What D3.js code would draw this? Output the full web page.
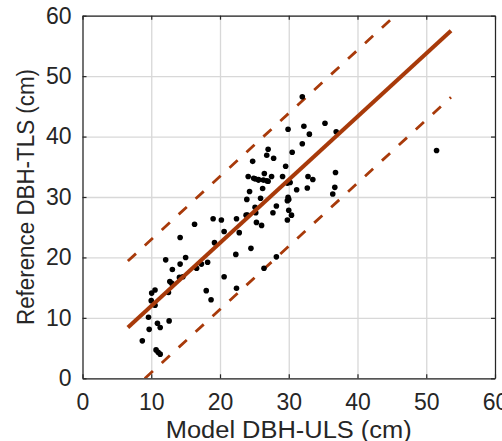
<!DOCTYPE html>
<html>
<head>
<meta charset="utf-8">
<script src="https://cdn.jsdelivr.net/npm/d3@7"></script>
<style>
  body { margin: 0; background: #fff; }
  svg { display: block; font-family: "Liberation Sans", Arial, sans-serif; }
</style>
</head>
<body>
<div id="chart"></div>
<script>
// Model DBH (ULS) vs reference DBH (TLS)
var modelDbh = [
  31.97, 35.27, 32.2, 29.9, 33.0, 36.9, 31.97, 30.5, 27.0, 26.8,
  27.8, 24.75, 29.55, 51.5, 36.8, 24.1, 24.9, 25.6, 26.45, 26.3,
  27.0, 27.5, 29.1, 30.2, 29.8, 32.8, 33.5, 36.7, 36.4, 32.7,
  31.15, 24.3, 26.2, 23.9, 25.9, 25.1, 28.2, 29.9, 29.8, 27.7,
  30.0, 30.4, 29.8, 25.2, 24.0, 25.3, 26.05, 22.4, 20.2, 19.0,
  20.6, 22.8, 16.3, 14.2, 19.2, 24.5, 22.3, 28.2, 26.4, 20.6,
  22.4, 18.0, 18.7, 12.1, 15.0, 14.2, 13.07, 16.6, 17.3, 18.2,
  14.6, 14.1, 12.7, 13.0, 12.5, 10.55, 10.06, 10.0, 10.55, 9.6,
  9.7, 8.7, 10.9, 11.3, 12.6, 10.7, 11.3, 25.1, 25.6, 26.8,
  30.0, 23.8, 11.0
];
var referenceDbh = [
  46.6, 42.2, 41.7, 41.2, 40.4, 40.8, 38.8, 37.4, 37.9, 36.9,
  36.4, 35.9, 35.1, 37.7, 34.05, 33.4, 33.1, 32.8, 33.9, 32.8,
  32.6, 33.4, 33.4, 32.4, 32.3, 33.4, 32.9, 31.6, 30.5, 31.5,
  31.2, 30.9, 31.4, 29.6, 29.8, 28.3, 28.5, 29.97, 29.4, 27.4,
  27.8, 27.0, 26.2, 27.4, 27.0, 25.8, 25.3, 26.4, 26.2, 26.4,
  24.3, 24.1, 25.5, 23.3, 22.45, 21.5, 20.5, 20.1, 18.2, 16.8,
  14.9, 14.5, 13.0, 19.6, 20.0, 18.9, 18.0, 18.2, 18.9, 19.2,
  16.8, 16.7, 16.0, 15.7, 14.2, 14.6, 14.1, 12.85, 12.1, 10.1,
  8.1, 6.2, 9.1, 8.4, 9.5, 4.7, 4.0, 33.0, 32.9, 32.7,
  29.6, 27.0, 4.3
];

// regression line and +/- band
var fitSlope = 1.045;
var fitIntercept = 1.5;
var bandOffset = 11;
var lineRange = [6.6, 53.6];

var xTicks = [0, 10, 20, 30, 40, 50, 60];
var yTicks = [0, 10, 20, 30, 40, 50, 60];

var W = 502, H = 441;
var margin = { top: 15.7, right: 7, bottom: 62.7, left: 82.5 };
var width = W - margin.left - margin.right;
var height = H - margin.top - margin.bottom;

var lineColor = '#a83a0a';
var axisColor = '#262626';

var svg = d3.select('#chart').append('svg')
  .attr('width', W)
  .attr('height', H);

var g = svg.append('g')
  .attr('transform', 'translate(' + margin.left + ',' + margin.top + ')');

var x = d3.scaleLinear().domain([0, 60]).range([0, width]);
var y = d3.scaleLinear().domain([0, 60]).range([height, 0]);

// grid
g.append('g')
  .attr('class', 'grid')
  .attr('transform', 'translate(0,' + height + ')')
  .call(d3.axisBottom(x).tickValues(xTicks).tickSize(-height).tickFormat(''))
  .call(function(s) { s.select('.domain').remove(); });
g.append('g')
  .attr('class', 'grid')
  .call(d3.axisLeft(y).tickValues(yTicks).tickSize(-width).tickFormat(''))
  .call(function(s) { s.select('.domain').remove(); });
g.selectAll('.grid line')
  .attr('stroke', '#d8d8d8')
  .attr('stroke-width', 1.3);

g.append('clipPath').attr('id', 'plotClip')
  .append('rect').attr('width', width).attr('height', height);

var plot = g.append('g').attr('clip-path', 'url(#plotClip)');

var line = d3.line()
  .x(function(d) { return x(d[0]); })
  .y(function(d) { return y(d[1]); });

function fitAt(v, off) { return [v, fitSlope * v + fitIntercept + off]; }

[bandOffset, -bandOffset].forEach(function(off) {
  plot.append('path')
    .datum(lineRange.map(function(v) { return fitAt(v, off); }))
    .attr('d', line)
    .attr('fill', 'none')
    .attr('stroke', lineColor)
    .attr('stroke-width', 2.8)
    .attr('stroke-dasharray', '11,12');
});

// points
plot.selectAll('circle')
  .data(modelDbh)
  .enter()
  .append('circle')
  .attr('cx', function(d) { return x(d); })
  .attr('cy', function(d, i) { return y(referenceDbh[i]); })
  .attr('r', 2.8)
  .attr('fill', '#000');

plot.append('path')
  .datum(lineRange.map(function(v) { return fitAt(v, 0); }))
  .attr('d', line)
  .attr('fill', 'none')
  .attr('stroke', lineColor)
  .attr('stroke-width', 4);

// axes, ticks inward on all four sides
var axes = g.append('g').attr('class', 'axes');
axes.append('g')
  .attr('transform', 'translate(0,' + height + ')')
  .call(d3.axisBottom(x).tickValues(xTicks).tickSizeInner(-4).tickSizeOuter(0).tickPadding(15));
axes.append('g')
  .call(d3.axisLeft(y).tickValues(yTicks).tickSizeInner(-4).tickSizeOuter(0).tickPadding(11));
axes.append('g')
  .call(d3.axisTop(x).tickValues(xTicks).tickSizeInner(-4).tickSizeOuter(0).tickFormat(''));
axes.append('g')
  .attr('transform', 'translate(' + width + ',0)')
  .call(d3.axisRight(y).tickValues(yTicks).tickSizeInner(-4).tickSizeOuter(0).tickFormat(''));

axes.selectAll('.domain, .tick line')
  .attr('stroke', axisColor)
  .attr('stroke-width', 1.2);
axes.selectAll('.tick text')
  .attr('fill', axisColor)
  .attr('font-size', '23px')
  .attr('font-family', '"Liberation Sans", Arial, sans-serif');

// labels
svg.append('text')
  .attr('x', margin.left + width / 2)
  .attr('y', 437.5)
  .attr('text-anchor', 'middle')
  .attr('fill', axisColor)
  .attr('font-size', '23px')
  .attr('textLength', 246)
  .attr('lengthAdjust', 'spacingAndGlyphs')
  .text('Model DBH-ULS (cm)');

svg.append('text')
  .attr('transform', 'translate(34,' + (margin.top + height / 2) + ') rotate(-90)')
  .attr('text-anchor', 'middle')
  .attr('fill', axisColor)
  .attr('font-size', '23px')
  .attr('textLength', 256)
  .attr('lengthAdjust', 'spacingAndGlyphs')
  .text('Reference DBH-TLS (cm)');
</script>
</body>
</html>
